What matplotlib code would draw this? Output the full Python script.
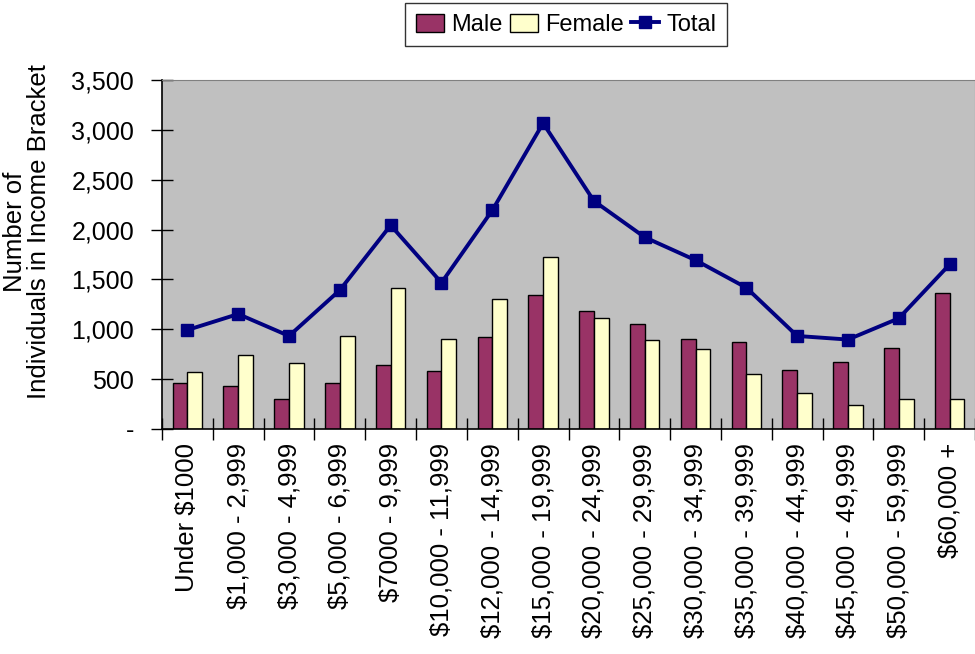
import matplotlib.pyplot as plt
import numpy as np
from matplotlib.ticker import FuncFormatter

plt.rcParams["font.family"] = ["Liberation Sans", "DejaVu Sans"]

brackets = [
    "Under $1000", "$1,000 - 2,999", "$3,000 - 4,999", "$5,000 - 6,999",
    "$7000 - 9,999", "$10,000 - 11,999", "$12,000 - 14,999", "$15,000 - 19,999",
    "$20,000 - 24,999", "$25,000 - 29,999", "$30,000 - 34,999", "$35,000 - 39,999",
    "$40,000 - 44,999", "$45,000 - 49,999", "$50,000 - 59,999", "$60,000 +",
]
male = [460, 433, 303, 463, 643, 580, 920, 1340, 1187, 1050, 907, 877, 590, 667, 817, 1367]
female = [567, 740, 657, 937, 1410, 907, 1303, 1723, 1117, 893, 803, 553, 357, 240, 303, 303]
total = [993, 1153, 933, 1393, 2043, 1467, 2193, 3067, 2287, 1923, 1693, 1417, 933, 897, 1110, 1650]

fig = plt.figure(figsize=(9.75, 6.54), dpi=100)
ax = fig.add_axes([162 / 975, 225 / 654, 813 / 975, 349 / 654])
ax.set_facecolor("#C0C0C0")

x = np.arange(len(brackets))
w = 0.29
b1 = ax.bar(x - w / 2, male, width=w, color="#993366", edgecolor="black", linewidth=1, label="Male", zorder=2)
b2 = ax.bar(x + w / 2, female, width=w, color="#FFFFCC", edgecolor="black", linewidth=1, label="Female", zorder=2)
l1, = ax.plot(x, total, color="#000080", linewidth=2.8, marker="s", markersize=8.5, label="Total", zorder=3)

ax.set_xlim(-0.5, len(brackets) - 0.5)
ax.set_ylim(0, 3500)
ax.set_yticks(range(0, 3501, 500))
ax.yaxis.set_major_formatter(FuncFormatter(lambda v, _: "-" if v == 0 else f"{int(v):,}"))
ax.set_xticks(x)
ax.set_xticklabels(brackets, rotation=90, fontsize=18.5)
ax.set_xticks(np.arange(-0.5, len(brackets)), minor=True)
ax.tick_params(axis="x", which="major", length=0, pad=10)
ax.tick_params(axis="x", which="minor", direction="inout", length=16, width=1, color="black")
ax.tick_params(axis="y", direction="inout", length=16, width=1, labelsize=18, pad=12)

for side in ["top", "right"]:
    ax.spines[side].set_color("#808080")
for side in ["left", "bottom"]:
    ax.spines[side].set_color("black")
    ax.spines[side].set_linewidth(1.2)

ax.set_ylabel("Number of\nIndividuals in Income Bracket", fontsize=18.5, linespacing=1.0)
ax.yaxis.set_label_coords(-0.136, 0.565)

fig.legend([b1, b2, l1], ["Male", "Female", "Total"], loc="upper center",
           bbox_to_anchor=(566 / 975, 1 - 3 / 654), borderaxespad=0, ncol=3, fontsize=17,
           frameon=True, fancybox=False, edgecolor="black", handlelength=1.2, handleheight=0.8,
           handletextpad=0.3, columnspacing=0.3, borderpad=0.45)

fig.savefig("out.png", dpi=100)
